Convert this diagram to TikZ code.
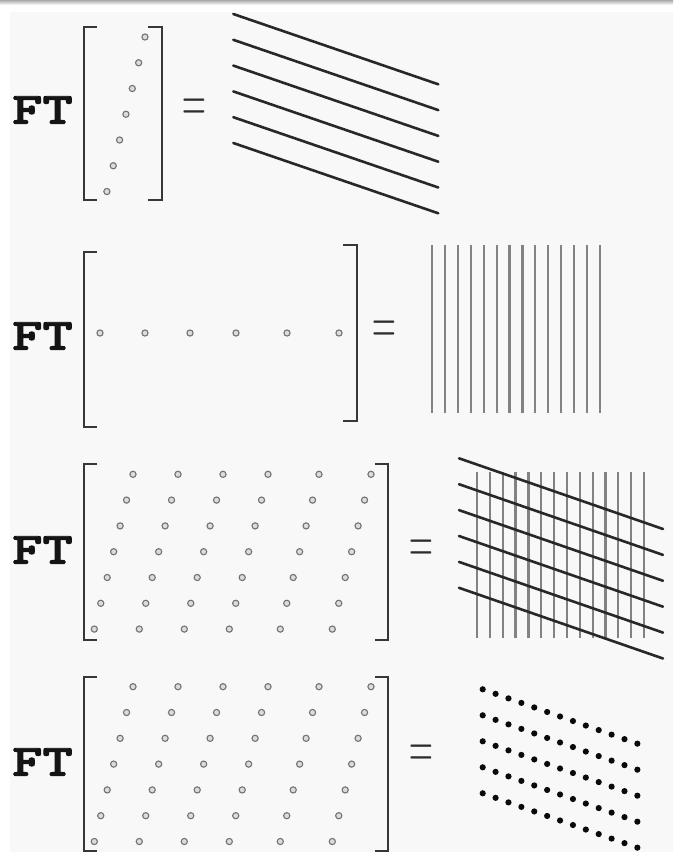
\documentclass[tikz,border=0pt]{standalone}
\usepackage{fontspec}
\newfontfamily\ftfont{lmmonolt10-bold.otf}[FakeBold=2]
\definecolor{brkcol}{RGB}{55,55,55}
\definecolor{ringcol}{RGB}{115,115,115}
\definecolor{ringfill}{RGB}{220,220,220}
\definecolor{dotcol}{RGB}{10,10,10}
\definecolor{slantcol}{RGB}{40,40,40}
\definecolor{vertcol}{RGB}{130,130,130}
\definecolor{panelcol}{RGB}{248,248,248}
\definecolor{topcol}{RGB}{170,170,170}
\definecolor{eqcol}{RGB}{45,45,45}
\definecolor{ftcol}{RGB}{20,20,20}
\begin{document}
\begin{tikzpicture}[x=1pt,y=-1pt,
  brk/.style={draw=brkcol,line width=2.2pt},
  ringdot/.style={draw=ringcol,line width=1.1pt,fill=ringfill},
  blackdot/.style={fill=dotcol},
  slantline/.style={draw=slantcol,line width=2.6pt,line cap=round},
  vertline/.style={draw=vertcol,line width=2.2pt},
  ftlabel/.style={inner sep=0pt,anchor=west,text=ftcol,xscale=1.28,font=\ftfont\fontsize{45}{45}\selectfont},
  eqlabel/.style={inner sep=0pt,text=eqcol,yscale=2,font=\fontsize{33}{33}\selectfont}]
\useasboundingbox (0,0) rectangle (673,852);
\fill[white] (0,0) rectangle (673,852);
\shade[top color=topcol,bottom color=white] (0,0) rectangle (673,5);
\fill[panelcol] (10,12) rectangle (673,852);

% ---------- panel 1
\node[ftlabel] (ft1) at (12,110) {FT};
\draw[brk] (97,27) -- (84,27) -- (84,200) -- (97,200);
\draw[brk] (148,27) -- (162,27) -- (162,200) -- (148,200);
\foreach \i in {0,...,6}
  \draw[ringdot] (145-6.35*\i,37+25.75*\i) circle (3.1);
\node[eqlabel] (eq1) at (194,111) {=};
\foreach \k in {0,...,5}
  \draw[slantline] (233.3,14+25.8*\k) -- (438.3,84.3+25.8*\k);

% ---------- panel 2
\node[ftlabel] (ft2) at (12,336) {FT};
\draw[brk] (97,252) -- (84,252) -- (84,427) -- (97,427);
\draw[brk] (343,245) -- (357,245) -- (357,421) -- (343,421);
\foreach \c in {100,145,190,236,287,339}
  \draw[ringdot] (\c,333) circle (3.1);
\node[eqlabel] (eq2) at (384,333) {=};
\foreach \k in {0,...,13}
  \draw[vertline] (432+12.92*\k,245) -- (432+12.92*\k,413);

% ---------- panel 3
\node[ftlabel] (ft3) at (12,550) {FT};
\draw[brk] (97,464) -- (84,464) -- (84,640) -- (97,640);
\draw[brk] (375,464) -- (388,464) -- (388,640) -- (375,640);
\foreach \i in {0,...,6}
  \foreach \o in {0,45,90,135,186,238}
    \draw[ringdot] (133+\o-6.45*\i,474.3+25.8*\i) circle (3.1);
\node[eqlabel] (eq3) at (421,552) {=};
\foreach \k in {0,...,13}
  \draw[vertline] (477+12.85*\k,472) -- (477+12.85*\k,638);
\foreach \k in {0,...,5}
  \draw[slantline] (459,458.3+25.9*\k) -- (663,529+25.9*\k);

% ---------- panel 4
\node[ftlabel] (ft4) at (12,762) {FT};
\draw[brk] (97,677) -- (84,677) -- (84,851) -- (97,851);
\draw[brk] (375,677) -- (388,677) -- (388,851) -- (375,851);
\foreach \i in {0,...,6}
  \foreach \o in {0,45,90,135,186,238}
    \draw[ringdot] (133+\o-6.45*\i,686.7+25.8*\i) circle (3.1);
\node[eqlabel] (eq4) at (421,757) {=};
\foreach \r in {0,...,4}
  \foreach \k in {0,...,12}
    \fill[blackdot] (482.7+12.89*\k,689.3+4.53*\k+26*\r) circle (3.1);
\end{tikzpicture}
\end{document}
